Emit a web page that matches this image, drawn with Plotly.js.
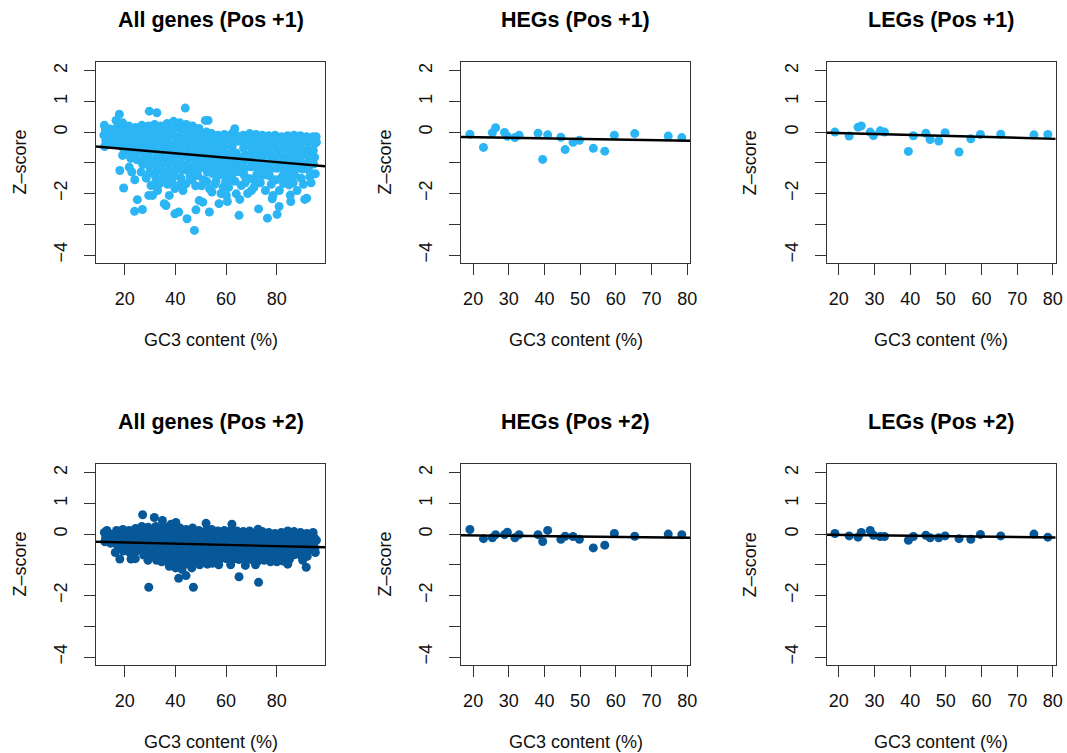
<!DOCTYPE html>
<html><head><meta charset="utf-8">
<script src="https://cdn.plot.ly/plotly-3.0.1.min.js"></script>
<style>html,body{margin:0;padding:0;background:#fff}#chart{width:1067px;height:753px}</style>
</head><body><div id="chart"></div>
<script>
// ---------- data ----------
const panelTitles = ["All genes (Pos +1)", "HEGs (Pos +1)", "LEGs (Pos +1)",
                     "All genes (Pos +2)", "HEGs (Pos +2)", "LEGs (Pos +2)"];
const xAxisTitle = "GC3 content (%)";
const yAxisTitle = "Z\u2013score";
const yTickVals = [-4, -3, -2, -1, 0, 1, 2];
const yTickText = ["\u22124", "", "\u22122", "", "0", "1", "2"];
const xTicksAll = [20, 40, 60, 80];
const xTicksSub = [20, 30, 40, 50, 60, 70, 80];

// All genes, position +1: [GC3, Z]
const allPos1 = [
 [12.0,0.22],[12.4,0.08],[11.8,-0.1],[12.6,-0.28],[12.1,-0.47],
 [14.3,0.1],[14.8,-0.05],[14.5,-0.22],[14.9,-0.4],
 [16.6,0.38],[17.2,0.18],[16.9,0.0],[17.4,-0.2],[17.0,-0.42],[17.9,0.58],
 [19.2,0.3],[19.8,0.1],[19.4,-0.12],[19.9,-0.35],[19.2,-0.76],[19.6,-0.55],[18.1,-1.25],[19.6,-1.82],
 [21.7,0.2],[22.3,0.02],[22.0,-0.2],[22.5,-0.42],[21.8,-0.62],[22.4,-0.85],[21.8,-1.14],[22.8,-1.3],
 [24.3,0.15],[24.8,-0.05],[24.4,-0.25],[24.9,-0.46],[24.4,-0.68],[24.9,-0.9],[25.0,-2.2],[23.9,-2.58],[24.0,-1.55],
 [26.8,0.22],[27.3,0.02],[26.9,-0.2],[27.4,-0.4],[27.0,-0.62],[27.5,-0.84],[27.1,-1.05],[27.0,-2.52],[26.5,-1.3],
 [29.7,0.68],[29.3,0.2],[29.8,0.0],[29.4,-0.22],[29.9,-0.44],[29.5,-0.66],[30.0,-0.88],[29.6,-1.1],[29.9,-1.32],[29.5,-2.06],[30.4,-1.74],[28.5,-1.5],
 [32.7,0.63],[31.8,0.25],[32.3,0.05],[31.9,-0.15],[32.4,-0.36],[32.0,-0.58],[32.5,-0.8],[32.1,-1.02],[32.6,-1.24],[31.0,-2.06],[33.7,-1.68],[32.2,-1.45],[31.5,-1.7],[33.0,-1.9],
 [34.3,0.2],[34.8,0.0],[34.4,-0.2],[34.9,-0.42],[34.5,-0.64],[35.0,-0.86],[34.6,-1.08],[35.1,-1.3],[34.7,-1.52],[35.6,-2.33],[36.3,-2.39],[36.0,-1.55],
 [36.8,0.28],[37.3,0.06],[36.9,-0.15],[37.4,-0.36],[37.0,-0.58],[37.5,-0.8],[37.1,-1.02],[37.6,-1.24],[37.2,-1.46],[37.6,-2.06],[36.9,-1.7],[38.5,-1.6],
 [39.3,0.35],[39.8,0.12],[39.4,-0.1],[39.9,-0.32],[39.5,-0.54],[40.0,-0.76],[39.6,-0.98],[40.1,-1.2],[39.7,-1.42],[39.8,-1.84],[39.8,-2.66],[41.0,-1.75],
 [41.8,0.3],[42.3,0.08],[41.9,-0.14],[42.4,-0.36],[42.0,-0.58],[42.5,-0.8],[42.1,-1.02],[42.6,-1.24],[42.2,-1.5],[41.3,-2.6],[42.6,-1.7],[43.0,-1.9],
 [43.9,0.78],[44.3,0.25],[44.8,0.05],[44.4,-0.17],[44.9,-0.39],[44.5,-0.61],[45.0,-0.83],[44.6,-1.05],[45.1,-1.27],[44.2,-1.68],[44.6,-2.82],[45.8,-1.45],
 [46.8,0.2],[47.3,-0.02],[46.9,-0.24],[47.4,-0.46],[47.0,-0.68],[47.5,-0.9],[47.1,-1.12],[47.6,-1.34],[47.5,-3.2],[48.1,-2.53],[46.5,-1.55],[48.0,-1.75],
 [49.3,0.12],[49.8,-0.08],[49.4,-0.3],[49.9,-0.52],[49.5,-0.74],[50.0,-0.96],[49.6,-1.18],[48.8,-1.41],[49.4,-2.23],[50.8,-2.28],[50.3,-1.75],[51.0,-1.55],
 [51.8,0.38],[52.9,0.38],[52.3,0.0],[51.9,-0.2],[52.4,-0.42],[52.0,-0.64],[52.5,-0.86],[52.1,-1.08],[52.6,-1.3],[53.4,-2.6],[52.3,-1.6],[53.5,-1.85],
 [54.3,-0.05],[54.8,-0.25],[54.4,-0.47],[54.9,-0.69],[54.5,-0.91],[55.0,-1.13],[54.6,-1.35],[54.4,-1.95],[55.5,-1.7],[56.0,-1.6],
 [56.8,-0.1],[57.3,-0.3],[56.9,-0.52],[57.4,-0.74],[57.0,-0.96],[57.5,-1.18],[57.1,-1.4],[57.2,-2.33],[58.8,-1.79],[58.0,-2.0],
 [59.3,-0.08],[59.8,-0.28],[59.4,-0.5],[59.9,-0.72],[59.5,-0.94],[60.0,-1.16],[59.6,-1.38],[60.5,-2.26],[60.1,-2.06],[59.8,-1.6],[61.0,-1.8],
 [62.3,-0.05],[63.4,0.11],[61.9,-0.25],[62.4,-0.47],[62.0,-0.69],[62.5,-0.91],[62.1,-1.13],[62.6,-1.35],[61.5,-1.55],[63.5,-1.6],
 [64.3,-0.12],[64.8,-0.3],[64.0,-0.68],[64.9,-0.85],[64.5,-1.07],[65.0,-1.29],[64.0,-2.01],[65.4,-2.19],[65.1,-2.71],[66.0,-1.74],
 [66.8,-0.1],[67.3,-0.3],[66.9,-0.52],[67.4,-0.74],[67.0,-0.96],[67.5,-1.18],[67.1,-1.4],[67.5,-1.65],[68.5,-2.0],
 [69.3,-0.05],[69.8,-0.25],[69.4,-0.47],[69.9,-0.69],[69.5,-0.91],[70.0,-1.13],[69.3,-1.52],[70.0,-1.9],
 [71.8,-0.08],[72.3,-0.28],[71.9,-0.5],[72.4,-0.72],[72.0,-0.94],[72.5,-1.16],[72.1,-1.38],[72.8,-2.5],[71.5,-1.6],[71.0,-1.8],
 [74.3,-0.1],[74.8,-0.3],[74.4,-0.52],[74.9,-0.74],[74.5,-0.96],[75.0,-1.18],[74.6,-1.4],[76.3,-2.8],[73.5,-1.65],[75.5,-1.9],
 [76.8,-0.12],[77.3,-0.32],[76.9,-0.54],[77.4,-0.76],[77.0,-0.98],[77.5,-1.2],[77.1,-1.42],[78.5,-2.06],[78.2,-2.17],[77.8,-1.7],
 [79.3,-0.1],[79.8,-0.3],[79.4,-0.52],[79.9,-0.74],[79.5,-0.96],[80.0,-1.18],[80.1,-2.68],[80.9,-2.42],[79.6,-1.55],[81.0,-1.9],
 [81.8,-0.15],[82.3,-0.35],[81.9,-0.57],[82.4,-0.79],[82.0,-1.01],[82.5,-1.23],[82.1,-1.45],[82.6,-1.67],[83.5,-1.5],
 [84.3,-0.12],[84.8,-0.32],[84.4,-0.54],[84.9,-0.76],[84.5,-0.98],[85.0,-1.2],[84.6,-1.42],[85.5,-2.26],[85.3,-2.05],[84.8,-1.72],
 [86.8,-0.1],[87.3,-0.3],[86.9,-0.52],[87.4,-0.74],[87.0,-0.96],[87.5,-1.18],[87.1,-1.4],[86.5,-1.65],[88.0,-1.9],
 [89.3,-0.12],[89.8,-0.32],[89.4,-0.54],[89.9,-0.76],[89.5,-0.98],[90.0,-1.2],[89.6,-1.5],[91.0,-2.19],[91.8,-2.15],[90.5,-1.7],
 [91.8,-0.15],[92.3,-0.35],[91.9,-0.57],[92.4,-0.79],[92.0,-1.01],[92.5,-1.23],[93.0,-1.45],[93.5,-1.65],
 [94.3,-0.15],[94.8,-0.38],[94.4,-0.6],[94.9,-0.82],[94.5,-1.04],[95.2,-1.36],[95.6,-0.33],[95.5,-0.15]
];

// All genes, position +2: [GC3, Z]
const allPos2 = [
 [12.0,0.05],[12.5,-0.12],[12.2,-0.25],[13.0,0.12],
 [14.3,0.0],[14.8,-0.18],[14.5,-0.3],
 [16.8,0.12],[17.3,-0.05],[16.9,-0.25],[17.4,-0.42],[16.3,-0.6],[18.1,-0.81],
 [19.3,0.15],[19.8,-0.03],[19.4,-0.22],[19.9,-0.4],[19.5,-0.55],
 [21.8,0.12],[22.3,-0.05],[21.9,-0.24],[22.4,-0.42],[22.0,-0.6],[22.5,-0.81],
 [24.3,0.18],[24.8,0.0],[24.4,-0.2],[24.9,-0.38],[24.5,-0.56],[24.2,-0.8],
 [27.1,0.63],[26.8,0.25],[27.3,0.06],[26.9,-0.13],[27.4,-0.32],[27.0,-0.5],[27.5,-0.68],
 [29.3,0.22],[29.8,0.03],[29.4,-0.16],[29.9,-0.35],[29.5,-0.54],[30.0,-0.72],[29.5,-1.73],[29.2,-0.85],
 [31.7,0.54],[32.3,0.25],[31.9,0.06],[32.4,-0.13],[32.0,-0.32],[32.5,-0.5],[32.1,-0.68],[32.6,-0.85],
 [34.9,0.44],[34.3,0.2],[34.8,0.02],[34.4,-0.17],[34.9,-0.36],[34.5,-0.54],[35.0,-0.72],[34.6,-0.9],
 [36.8,0.22],[37.3,0.03],[36.9,-0.16],[37.4,-0.35],[37.0,-0.54],[37.5,-0.72],[37.1,-0.9],[37.6,-1.05],[38.3,0.32],
 [40.2,0.38],[39.3,0.18],[39.8,-0.01],[39.4,-0.2],[39.9,-0.39],[39.5,-0.58],[40.0,-0.76],[39.6,-0.94],[40.1,-1.1],
 [41.8,0.2],[42.3,0.0],[41.9,-0.19],[42.4,-0.38],[42.0,-0.57],[42.5,-0.75],[42.1,-0.93],[41.3,-1.44],[42.6,-1.15],
 [44.3,0.15],[44.8,-0.04],[44.4,-0.23],[44.9,-0.42],[44.5,-0.61],[45.0,-0.79],[44.6,-0.97],[44.2,-1.35],
 [46.8,0.2],[47.3,0.0],[46.9,-0.19],[47.4,-0.38],[47.0,-0.57],[47.5,-0.75],[47.1,-0.93],[47.1,-1.73],[46.5,-1.1],
 [49.3,0.12],[49.8,-0.06],[49.4,-0.25],[49.9,-0.44],[49.5,-0.63],[50.0,-0.81],[49.6,-1.0],
 [52.1,0.35],[52.3,0.12],[51.9,-0.07],[52.4,-0.26],[52.0,-0.45],[52.5,-0.64],[52.1,-0.82],[52.6,-0.98],
 [54.3,0.15],[54.8,-0.04],[54.4,-0.23],[54.9,-0.42],[54.5,-0.61],[55.0,-0.79],[54.6,-0.95],
 [56.8,0.1],[57.3,-0.08],[56.9,-0.27],[57.4,-0.46],[57.0,-0.65],[57.5,-0.83],[57.1,-1.0],
 [59.3,0.12],[59.8,-0.06],[59.4,-0.25],[59.9,-0.44],[59.5,-0.63],[60.0,-0.8],
 [62.3,0.32],[62.0,0.12],[62.5,-0.06],[62.1,-0.25],[62.6,-0.44],[62.2,-0.63],[62.7,-0.82],[61.8,-1.0],
 [64.3,0.1],[64.8,-0.08],[64.4,-0.27],[64.9,-0.46],[64.5,-0.65],[65.0,-0.83],[65.1,-1.39],
 [66.8,0.08],[67.3,-0.1],[66.9,-0.29],[67.4,-0.48],[67.0,-0.67],[67.5,-0.85],[67.6,-1.02],
 [69.3,0.1],[69.8,-0.08],[69.4,-0.27],[69.9,-0.46],[69.5,-0.65],[70.0,-0.83],
 [72.6,0.16],[71.8,0.05],[72.3,-0.13],[71.9,-0.32],[72.4,-0.51],[72.0,-0.7],[72.5,-0.88],[72.8,-1.57],[71.6,-1.0],
 [74.3,0.08],[74.8,-0.1],[74.4,-0.29],[74.9,-0.48],[74.5,-0.67],[75.0,-0.85],
 [76.8,0.05],[77.3,-0.13],[76.9,-0.32],[77.4,-0.51],[77.0,-0.7],[77.5,-0.9],
 [79.3,0.02],[79.8,-0.16],[79.4,-0.35],[79.9,-0.54],[79.5,-0.73],[80.0,-0.9],
 [81.8,0.05],[82.3,-0.13],[81.9,-0.32],[82.4,-0.51],[82.0,-0.7],[82.5,-0.88],
 [84.3,0.1],[84.8,-0.08],[84.4,-0.27],[84.9,-0.46],[84.5,-0.65],[85.0,-0.82],[84.3,-0.98],
 [86.8,0.08],[87.3,-0.1],[86.9,-0.29],[87.4,-0.48],[87.0,-0.67],
 [89.3,0.05],[89.8,-0.13],[89.4,-0.32],[89.9,-0.51],[89.5,-0.7],[90.2,-0.85],
 [91.8,0.02],[92.3,-0.16],[91.9,-0.35],[92.4,-0.54],[91.6,-1.08],[92.0,-0.72],
 [94.3,0.05],[94.8,-0.12],[94.4,-0.3],[95.0,-0.45],[95.2,-0.6],[95.6,-0.2]
];

// HEGs / LEGs
const hegGC3   = [19.1,22.9,25.4,26.3,28.8,29.6,31.7,32.9,38.2,39.5,40.9,44.6,45.8,48.0,49.8,53.7,56.9,59.6,65.3,74.7,78.5];
const hegZPos1 = [-0.07,-0.50,-0.02,0.14,-0.01,-0.14,-0.18,-0.10,-0.04,-0.89,-0.09,-0.17,-0.57,-0.33,-0.27,-0.53,-0.62,-0.10,-0.05,-0.13,-0.18];
const hegZPos2 = [0.15,-0.15,-0.12,-0.02,-0.02,0.06,-0.12,-0.02,-0.02,-0.24,0.12,-0.17,-0.07,-0.08,-0.17,-0.45,-0.36,0.02,-0.07,0.00,-0.02];
const legGC3   = [18.9,22.9,25.4,26.3,28.8,29.7,31.6,32.8,39.5,40.9,44.4,45.6,48.0,49.8,53.7,57.0,59.7,65.4,74.7,78.6];
const legZPos1 = [0.00,-0.13,0.16,0.20,0.00,-0.11,0.04,0.00,-0.63,-0.12,-0.04,-0.24,-0.29,-0.02,-0.65,-0.22,-0.08,-0.07,-0.09,-0.08];
const legZPos2 = [0.02,-0.06,-0.10,0.05,0.12,-0.04,-0.08,-0.08,-0.20,-0.08,-0.04,-0.12,-0.12,-0.06,-0.15,-0.17,-0.01,-0.06,0.00,-0.10];

// fitted regression lines (intercept, slope) per panel
const fitIntercepts = [-0.408, -0.129, 0.0315, -0.233, -0.019, 0.003];
const fitSlopes     = [-0.00709, -0.00187, -0.00311, -0.0020, -0.00125, -0.0014];

// ---------- styling / layout ----------
const colPos1 = "#2BB5F4";
const colPos2 = "#075899";
const W = 1067, H = 753;
const FONT = "Liberation Sans, Arial, Helvetica, sans-serif";
const boxLeft = [96, 461, 826.7];
const boxWidth = 229;
const boxTop = [62, 464];
const boxHeight = 201;
const xRanges = [[8.7, 99], [16.6, 80.8], [16.6, 80.8]];
const yRange = [-4.26, 2.28];

const panelData = [
  [allPos1.map(p => p[0]), allPos1.map(p => p[1]), colPos1],
  [hegGC3, hegZPos1, colPos1],
  [legGC3, legZPos1, colPos1],
  [allPos2.map(p => p[0]), allPos2.map(p => p[1]), colPos2],
  [hegGC3, hegZPos2, colPos2],
  [legGC3, legZPos2, colPos2]
];

const traces = [];
const layout = {
  width: W, height: H, margin: {l: 0, r: 0, t: 0, b: 0},
  paper_bgcolor: "#fff", plot_bgcolor: "#fff", showlegend: false,
  font: {family: FONT, size: 18, color: "#000"},
  annotations: []
};

for (let i = 0; i < 6; i++) {
  const row = Math.floor(i / 3), col = i % 3;
  const sfx = i === 0 ? "" : String(i + 1);
  const xa = "x" + sfx, ya = "y" + sfx;
  const [xs, ys, color] = panelData[i];
  traces.push({
    type: "scatter", mode: "markers", x: xs, y: ys, xaxis: xa, yaxis: ya,
    marker: {color: color, size: 9, line: {width: 0}}, hoverinfo: "skip"
  });
  const xr = xRanges[col];
  traces.push({
    type: "scatter", mode: "lines",
    x: xr, y: xr.map(v => fitIntercepts[i] + fitSlopes[i] * v),
    xaxis: xa, yaxis: ya, line: {color: "#000", width: 2.4}, hoverinfo: "skip"
  });
  const x0 = boxLeft[col], x1 = x0 + boxWidth;
  const y0 = boxTop[row], y1 = y0 + boxHeight;
  layout["xaxis" + sfx] = {
    domain: [x0 / W, x1 / W], anchor: ya, range: xr,
    tickvals: col === 0 ? xTicksAll : xTicksSub,
    ticks: "outside", ticklen: 11, tickwidth: 1, tickcolor: "#333",
    showline: true, mirror: true, linecolor: "#333", linewidth: 1,
    showgrid: false, zeroline: false, fixedrange: true,
    tickfont: {family: FONT, size: 18, color: "#111"}, ticklabelstandoff: 8
  };
  layout["yaxis" + sfx] = {
    domain: [1 - y1 / H, 1 - y0 / H], anchor: xa, range: yRange,
    tickvals: yTickVals, ticktext: yTickText, tickangle: -90,
    ticks: "outside", ticklen: 11, tickwidth: 1, tickcolor: "#333",
    showline: true, mirror: true, linecolor: "#333", linewidth: 1,
    showgrid: false, zeroline: false, fixedrange: true,
    tickfont: {family: FONT, size: 18, color: "#111"}, ticklabelstandoff: 10
  };
  const cx = (x0 + x1) / 2, cy = (y0 + y1) / 2;
  layout.annotations.push(
    {text: "<b>" + panelTitles[i] + "</b>", xref: "paper", yref: "paper",
     x: cx / W, y: 1 - (y0 - 42) / H, xanchor: "center", yanchor: "middle",
     showarrow: false, font: {family: FONT, size: 21.5, color: "#000"}},
    {text: xAxisTitle, xref: "paper", yref: "paper",
     x: cx / W, y: 1 - (y1 + 77) / H, xanchor: "center", yanchor: "middle",
     showarrow: false, font: {family: FONT, size: 18, color: "#111"}},
    {text: yAxisTitle, xref: "paper", yref: "paper", textangle: -90,
     x: (x0 - 77) / W, y: 1 - cy / H, xanchor: "center", yanchor: "middle",
     showarrow: false, font: {family: FONT, size: 18, color: "#111"}}
  );
}

Plotly.newPlot("chart", traces, layout, {staticPlot: true, displayModeBar: false});
</script>
</body></html>
